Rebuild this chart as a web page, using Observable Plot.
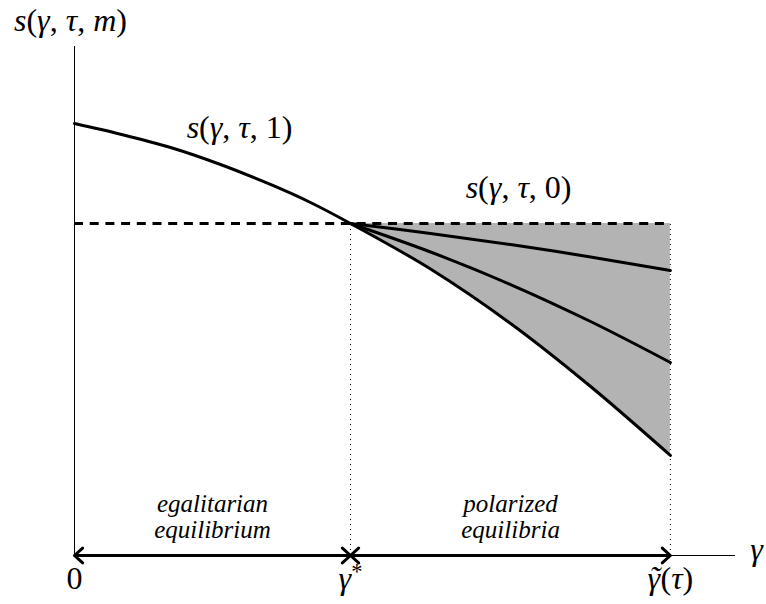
<!DOCTYPE html>
<html>
<head>
<meta charset="utf-8">
<script src="https://cdn.jsdelivr.net/npm/d3@7"></script>
<script src="https://cdn.jsdelivr.net/npm/@observablehq/plot@0.6"></script>
<style>
  html, body { margin: 0; padding: 0; background: white; font-family: Liberation Serif, serif; }
  #chart figure { margin: 0; padding: 0; }
  #chart h2, #chart .ytitle {
    margin: 0; padding: 0 0 0 14px; height: 40px;
    font: normal 32px/40px Liberation Serif, serif; color: black;
  }
  #chart svg { overflow: visible; display: block; }
  #chart svg text, #chart svg tspan { font-family: Liberation Serif, serif !important; }
</style>
</head>
<body>
<div id="chart"></div>
<script>
// ---- data ----
const gammaS1 = [0, 0.167, 0.348, 0.529, 0.71, 0.855, 1, 1.29, 1.58, 1.87, 2.159];
const s1 = [0.8487, 0.8277, 0.8016, 0.7682, 0.7289, 0.6935, 0.6523, 0.5629, 0.4558, 0.332, 0.1965];
const gammaPol = [1, 1.29, 1.58, 1.87, 2.159];
const sUpper = [0.6523, 0.6326, 0.611, 0.5865, 0.5599];
const sMiddle = [0.6523, 0.5963, 0.5324, 0.4597, 0.3792];
const sLower = [0.6523, 0.5629, 0.4558, 0.332, 0.1965];
const s0Level = 0.6523;
const gammaStar = 1;
const gammaTilde = 2.159;
const gammaMax = 2.395;
const tickValues = [0, gammaStar, gammaTilde];
const tickLabels = ["0", "γ*", "γ\u0303(τ)"];
const curveLabels = ["s(γ, τ, 1)", "s(γ, τ, 0)"];
const regionLabels = [["egalitarian", "equilibrium"], ["polarized", "equilibria"]];
const axisTitles = ["s(γ, τ, m)", "γ"];

// ---- tables built from the arrays ----
const s1Data = gammaS1.map((g, i) => ({g, s: s1[i]}));
const upperData = gammaPol.map((g, i) => ({g, s: sUpper[i]}));
const middleData = gammaPol.map((g, i) => ({g, s: sMiddle[i]}));
const areaData = gammaPol.map((g, i) => ({g, lo: sLower[i], hi: s0Level}));
const tickData = tickValues.map((v, i) => ({v, label: tickLabels[i]}));
// each interval gets two arrows from its midpoint outward (double-headed)
const segs = [[0, gammaStar], [gammaStar, gammaTilde]];
const arrowData = segs.flatMap(([a, b]) => [{from: (a + b) / 2, to: a}, {from: (a + b) / 2, to: b}]);

const FONT = "Liberation Serif";
const MATH = 32;
const WORDS = 25;

const chart = Plot.plot({
  title: axisTitles[0],
  width: 766,
  height: 564,
  marginLeft: 74,
  marginRight: 31,
  marginTop: 6,
  marginBottom: 49,
  x: {domain: [0, gammaMax], axis: null},
  y: {domain: [0, 1], axis: null},
  marks: [
    Plot.areaY(areaData, {x: "g", y1: "lo", y2: "hi", fill: "#b3b3b3", curve: "catmull-rom"}),
    Plot.ruleX([gammaStar, gammaTilde], {y1: 0, y2: s0Level, stroke: "black", strokeWidth: 1, strokeDasharray: "1,4"}),
    Plot.ruleX([0], {y1: 0, y2: 1, stroke: "black", strokeWidth: 1}),
    Plot.ruleY([0], {x1: 0, x2: gammaMax, stroke: "black", strokeWidth: 1}),
    Plot.line(upperData, {x: "g", y: "s", stroke: "black", strokeWidth: 3, curve: "catmull-rom"}),
    Plot.line(middleData, {x: "g", y: "s", stroke: "black", strokeWidth: 3, curve: "catmull-rom"}),
    Plot.line(s1Data, {x: "g", y: "s", stroke: "black", strokeWidth: 3, curve: "catmull-rom"}),
    Plot.ruleY([s0Level], {x1: 0, x2: gammaTilde, stroke: "black", strokeWidth: 3, strokeDasharray: "9,6.7"}),
    Plot.arrow(arrowData, {x1: "from", x2: "to", y1: 0, y2: 0, stroke: "black", strokeWidth: 3, headLength: 5.5, headAngle: 85}),
    // texts
    Plot.text([axisTitles[1]], {x: 2.471, y: 0.0122, text: d => d, fontSize: MATH, fill: "black", fontFamily: FONT}),
    Plot.text([curveLabels[0]], {x: 0.598, y: 0.841, text: d => d, fontSize: MATH, fill: "black", fontFamily: FONT}),
    Plot.text([curveLabels[1]], {x: 1.609, y: 0.7234, text: d => d, fontSize: MATH, fill: "black", fontFamily: FONT}),
    Plot.text(tickData, {x: "v", y: -0.045, text: "label", fontSize: MATH, fill: "black", fontFamily: FONT}),
    Plot.text([regionLabels[0][0]], {x: 0.5, y: 0.101, text: d => d, fontSize: WORDS, fontStyle: "italic", fill: "black", fontFamily: FONT}),
    Plot.text([regionLabels[0][1]], {x: 0.5, y: 0.0505, text: d => d, fontSize: WORDS, fontStyle: "italic", fill: "black", fontFamily: FONT}),
    Plot.text([regionLabels[1][0]], {x: 1.58, y: 0.101, text: d => d, fontSize: WORDS, fontStyle: "italic", fill: "black", fontFamily: FONT}),
    Plot.text([regionLabels[1][1]], {x: 1.58, y: 0.0505, text: d => d, fontSize: WORDS, fontStyle: "italic", fill: "black", fontFamily: FONT})
  ]
});

const svg = chart.tagName.toLowerCase() === "svg" ? chart : chart.querySelector("svg");
svg.setAttribute("font-family", FONT);

// the y-axis title sits above the SVG (Plot's own title, or a fallback block)
let head = chart.querySelector ? chart.querySelector("h2") : null;
if (!head) {
  head = document.createElement("div");
  head.className = "ytitle";
  head.textContent = axisTitles[0];
  document.getElementById("chart").appendChild(head);
}
head.innerHTML = axisTitles[0].replace(/[A-Za-z\u03B1-\u03C9]/g, c => "<i>" + c + "</i>");

const SVGNS = "http://www.w3.org/2000/svg";
function tspan(parent, str, attrs = {}) {
  const t = document.createElementNS(SVGNS, "tspan");
  t.textContent = str;
  for (const k in attrs) t.setAttribute(k, attrs[k]);
  parent.appendChild(t);
  return t;
}
// math-style labels: letters italic, star as superscript, tilde accent over the letter
function mathify(el) {
  const s = el.textContent;
  el.textContent = "";
  const re = /([A-Za-z\u03B1-\u03C9])(\u0303?)|(\*)|([^A-Za-z\u03B1-\u03C9*\u0303]+)/gu;
  let afterTilde = false;
  for (const m of s.matchAll(re)) {
    if (m[1]) {
      tspan(el, m[1], {"font-style": "italic"});
      if (m[2]) { tspan(el, "\u02DC", {"font-style": "italic", dx: "-0.34em", dy: "-0.03em"}); afterTilde = true; }
    } else if (m[3]) {
      tspan(el, "*", {"font-size": "0.7em", dy: "-0.45em"});
    } else {
      tspan(el, m[4], afterTilde ? {dy: "0.03em", dx: "0.02em"} : {});
      afterTilde = false;
    }
  }
}
svg.querySelectorAll("text").forEach(el => {
  el.setAttribute("font-family", FONT);
  if (/[γτ]|s\(/.test(el.textContent)) mathify(el);
});

document.getElementById("chart").appendChild(chart);
</script>
</body>
</html>
